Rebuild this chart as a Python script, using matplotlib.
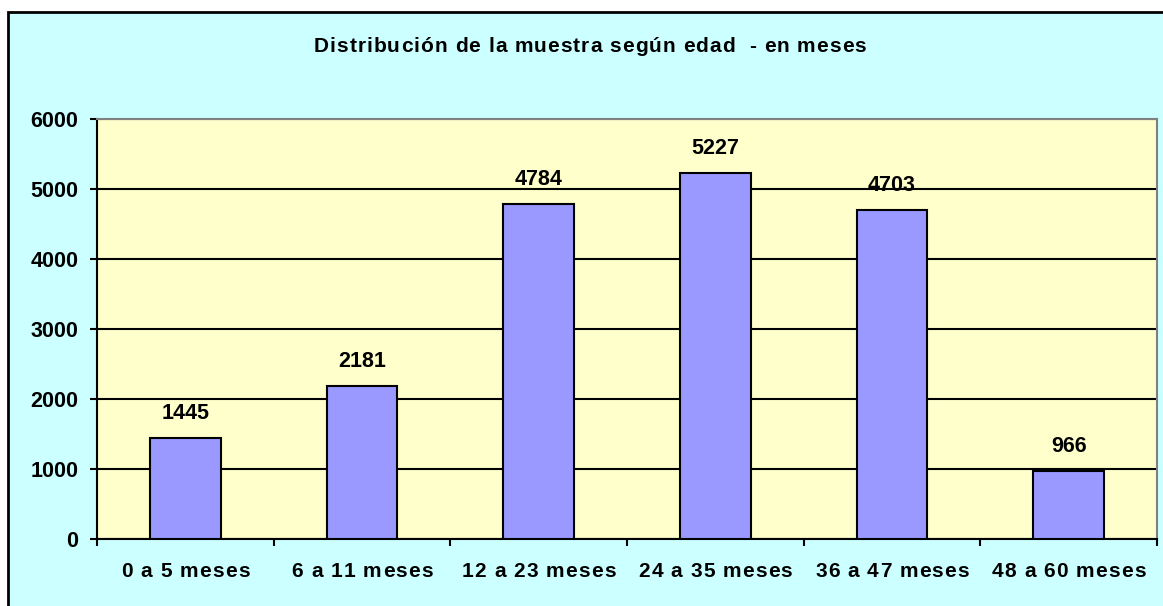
import matplotlib.pyplot as plt
from matplotlib.patches import Rectangle
from matplotlib.transforms import IdentityTransform
from matplotlib.font_manager import FontProperties

# Data
categories = ["0 a 5 meses", "6 a 11 meses", "12 a 23 meses",
              "24 a 35 meses", "36 a 47 meses", "48 a 60 meses"]
counts = [1445, 2181, 4784, 5227, 4703, 966]
y_ticks = [0, 1000, 2000, 3000, 4000, 5000, 6000]
title = "Distribución de la muestra según edad  - en meses"

plt.rcParams["font.family"] = ["Liberation Sans", "DejaVu Sans"]
plt.rcParams["font.weight"] = "bold"

W, H = 1163, 606
fig = plt.figure(figsize=(W / 100, H / 100), dpi=100)
fig.patch.set_facecolor("white")
renderer = fig.canvas.get_renderer()


def spaced_text(x_px, y_px, s, size, spacing):
    # Excel draws these labels with a little extra letter spacing
    fp = FontProperties(family="Liberation Sans", weight="bold", size=size)
    widths = [renderer.get_text_width_height_descent(c, fp, ismath=False)[0]
              for c in s]
    total = sum(widths) + spacing * (len(s) - 1)
    cx = x_px - total / 2
    for c, w in zip(s, widths):
        fig.text(cx, y_px, c, transform=IdentityTransform(), fontproperties=fp,
                 ha="left", va="baseline", zorder=5)
        cx += w + spacing


# outer chart area (cyan, black frame, runs past the image edge)
fig.patches.append(Rectangle((8 / W, -0.05), 1.1, 1 - 12 / H + 0.05,
                             transform=fig.transFigure, facecolor="#CCFFFF",
                             edgecolor="black", linewidth=2, zorder=-5))

ax = fig.add_axes([97 / W, (H - 539) / H, 1060 / W, 420 / H])
ax.set_zorder(2)
ax.set_facecolor("#FFFFCC")

x = list(range(len(categories)))
ax.bar(x, counts, width=0.4, color="#9999FF", edgecolor="black",
       linewidth=1.5, zorder=3)

for xi, v in zip(x, counts):
    ax.annotate(str(v), (xi, v), xytext=(0, 13.7), textcoords="offset points",
                ha="center", va="baseline", fontsize=15.5, fontweight="bold")

ax.set_xlim(-0.5, len(categories) - 0.5)
ax.set_ylim(0, 6000)
ax.set_yticks(y_ticks)
ax.yaxis.grid(True, color="black", linewidth=1.5, zorder=1)
ax.set_axisbelow(True)

ax.set_xticks(x)
ax.set_xticklabels([])
ax.set_xticks([i - 0.5 for i in range(len(categories) + 1)], minor=True)
ax.tick_params(axis="x", which="major", length=0)
ax.tick_params(axis="x", which="minor", length=5, width=1.5, direction="out")
ax.tick_params(axis="y", length=5, width=1.5, direction="out",
               labelsize=15.5, pad=8.5)

for s in ["left", "bottom"]:
    ax.spines[s].set_color("black")
    ax.spines[s].set_linewidth(1.5)
for s in ["top", "right"]:
    ax.spines[s].set_color("#808080")
    ax.spines[s].set_linewidth(1.5)

# category labels below the axis
for xi, lab in zip(x, categories):
    px, py = ax.transData.transform((xi, 0))
    spaced_text(px, py - 38, lab, 15, 1.1)

spaced_text(590, H - 52, title, 15, 1.0)

fig.savefig("out.png", dpi=100)
